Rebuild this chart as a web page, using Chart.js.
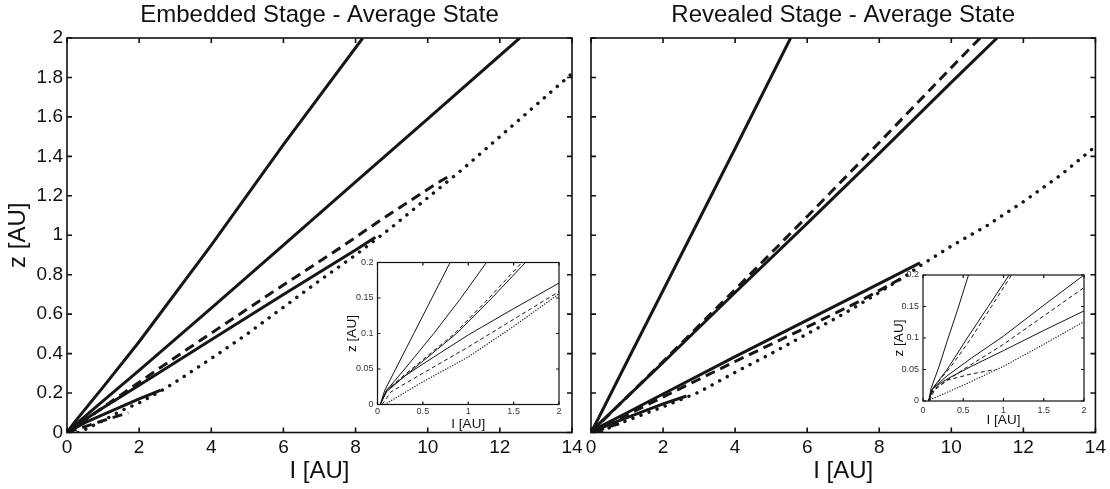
<!DOCTYPE html>
<html>
<head>
<meta charset="utf-8">
<script src="https://cdn.jsdelivr.net/npm/chart.js@4.4.1/dist/chart.umd.min.js"></script>
<style>
  html, body { margin: 0; padding: 0; background: #fff; }
  #wrap { position: relative; width: 1110px; height: 489px; overflow: hidden; }
  canvas { position: absolute; }
</style>
</head>
<body>
<div id="wrap">
  <canvas id="embMain" width="600" height="489" style="left:0;top:0"></canvas>
  <canvas id="revMain" width="550" height="489" style="left:560px;top:0"></canvas>
  <canvas id="embInset" width="235" height="190" style="left:340px;top:250px"></canvas>
  <canvas id="revInset" width="220" height="180" style="left:880px;top:260px"></canvas>
</div>
<script>
// tick values
const mainLTicks = [0, 2, 4, 6, 8, 10, 12, 14];
const mainZTicks = [0, 0.2, 0.4, 0.6, 0.8, 1, 1.2, 1.4, 1.6, 1.8, 2];
const insetLTicks = [0, 0.5, 1, 1.5, 2];
const insetZTicks = [0, 0.05, 0.1, 0.15, 0.2];

// Embedded stage, big panel ([l, z] in AU)
const embSolidA = [[0,0],[0.2,0.05],[1,0.23],[2,0.46],[4,0.95],[6,1.46],[8.2,2]];
const embSolidB = [[0,0],[0.2,0.035],[1,0.16],[2,0.315],[4,0.63],[6,0.95],[8,1.27],[10,1.59],[12.55,2]];
const embSolidC = [[0,0],[0.2,0.03],[1,0.125],[2,0.24],[4,0.47],[6,0.7],[8,0.925],[8.55,0.99]];
const embSolidD = [[0,0],[0.5,0.05],[1,0.09],[2,0.17],[2.6,0.215]];
const embDashA = [[0,0],[1,0.128],[2,0.255],[3.3,0.418],[5.66,0.707],[7.57,0.936],[8.77,1.086],[10.25,1.263],[10.6,1.3]];
const embDashB = [[0,0],[0.5,0.03],[1,0.06],[1.7,0.1]];
const embDot = [[0.3,0],[0.5,0.015],[1,0.06],[1.5,0.11],[2,0.15],[2.6,0.21],[3,0.255],[4,0.375],[5,0.5],[6,0.635],[7,0.77],[8,0.9],[9,1.04],[10,1.19],[11,1.34],[12,1.5],[13,1.66],[14,1.82]];

// Revealed stage, big panel
const revSolidA = [[0,0],[0.2,0.07],[1,0.36],[2,0.72],[3,1.08],[4,1.44],[5.54,2]];
const revSolidB = [[0,0],[0.2,0.04],[1,0.18],[2,0.355],[4,0.71],[6,1.06],[8,1.415],[10,1.775],[11.27,2]];
const revSolidC = [[0,0],[0.2,0.025],[1,0.1],[2,0.195],[4,0.385],[6,0.57],[8,0.755],[9.13,0.86]];
const revSolidD = [[0,0],[0.5,0.04],[1,0.075],[2,0.145],[2.65,0.185]];
const revDashA = [[0,0],[1,0.18],[2,0.36],[4,0.725],[6,1.095],[8,1.47],[10,1.85],[10.8,2]];
const revDashB = [[0,0],[1,0.09],[2.5,0.225],[4,0.36],[6,0.535],[7.45,0.665],[8.8,0.8]];
const revDashC = [[0.1,0],[0.5,0.03],[0.9,0.05]];
const revDot = [[0.3,0],[0.6,0.035],[1,0.06],[2,0.13],[3,0.205],[4,0.305],[5,0.4],[6,0.5],[7,0.6],[8,0.71],[8.7,0.79],[9.13,0.845],[10,0.945],[11,1.05],[12,1.17],[13,1.3],[14,1.45]];

// Embedded stage, inset (zoom near the star)
const embInSolidA = [[0.03,0],[0.08,0.02],[0.2,0.05],[0.4,0.1],[0.6,0.15],[0.8,0.2]];
const embInSolidB = [[0.03,0],[0.1,0.02],[0.3,0.05],[0.62,0.1],[0.92,0.15],[1.2,0.2]];
const embInSolidC = [[0.03,0],[0.1,0.018],[0.3,0.04],[0.87,0.1],[1.26,0.15],[1.63,0.2]];
const embInSolidD = [[0.03,0],[0.1,0.02],[0.3,0.04],[0.5,0.057],[1,0.098],[1.5,0.135],[2,0.171]];
const embInDashA = [[0.03,0],[0.1,0.02],[0.3,0.042],[0.85,0.1],[1.23,0.15],[1.59,0.2]];
const embInDashB = [[0.05,0],[0.15,0.018],[0.5,0.044],[1,0.081],[1.5,0.12],[2,0.159]];
const embInDot = [[0.08,0],[0.5,0.032],[1,0.067],[1.5,0.11],[2,0.156]];

// Revealed stage, inset
const revInSolidA = [[0.07,0],[0.1,0.02],[0.2,0.055],[0.3,0.095],[0.43,0.145],[0.565,0.2]];
const revInSolidB = [[0.07,0],[0.12,0.02],[0.3,0.05],[0.55,0.1],[0.81,0.15],[1.07,0.2]];
const revInSolidC = [[0.07,0],[0.12,0.02],[0.3,0.04],[0.6,0.068],[1,0.103],[1.5,0.152],[2,0.2]];
const revInSolidD = [[0.07,0],[0.12,0.02],[0.3,0.035],[0.6,0.055],[1,0.08],[1.5,0.112],[2,0.143]];
const revInDashA = [[0.07,0],[0.15,0.025],[0.35,0.055],[0.6,0.1],[0.85,0.15],[1.1,0.2]];
const revInDashB = [[0.08,0],[0.15,0.02],[0.5,0.05],[1,0.09],[1.5,0.135],[2,0.18]];
const revInDashC = [[0.09,0.012],[0.3,0.033],[0.6,0.043],[0.9,0.05]];
const revInDot = [[0.09,0.002],[0.5,0.025],[1,0.055],[1.5,0.09],[2,0.126]];

Chart.defaults.font.family = "'Liberation Sans', Arial, sans-serif";
Chart.defaults.color = '#111';

const INK = '#161616';
const bigStyles = {
    solid: { borderWidth: 3 },
    dash: { borderWidth: 3, borderDash: [10, 6] },
    dot: { borderWidth: 3.4, borderDash: [0.1, 8.5], borderCapStyle: 'round' }
};
const smallStyles = {
    solid: { borderWidth: 1 },
    dash: { borderWidth: 1, borderDash: [4, 3] },
    dot: { borderWidth: 1.3, borderDash: [0.1, 2.6], borderCapStyle: 'round' }
};

function line(points, style) {
    return Object.assign({
        data: points.map(p => ({ x: p[0], y: p[1] })),
        showLine: true,
        pointRadius: 0,
        borderColor: INK,
        fill: false,
        tension: 0
    }, style);
}

// MATLAB-like box: frame plus inward ticks on all four sides
const matlabBox = {
    id: 'matlabBox',
    beforeDatasetsDraw(chart, args, opts) {
        if (!opts.fill) return;
        const a = chart.chartArea, c = chart.ctx;
        c.save();
        c.fillStyle = '#fff';
        c.fillRect(a.left, a.top, a.right - a.left, a.bottom - a.top);
        c.restore();
    },
    afterDatasetsDraw(chart, args, opts) {
        const a = chart.chartArea, c = chart.ctx, t = opts.tick;
        c.save();
        c.strokeStyle = '#111';
        c.lineWidth = opts.width;
        c.strokeRect(a.left, a.top, a.right - a.left, a.bottom - a.top);
        c.beginPath();
        chart.scales.x.ticks.forEach(k => {
            const px = chart.scales.x.getPixelForValue(k.value);
            c.moveTo(px, a.bottom); c.lineTo(px, a.bottom - t);
            c.moveTo(px, a.top); c.lineTo(px, a.top + t);
        });
        chart.scales.y.ticks.forEach(k => {
            const py = chart.scales.y.getPixelForValue(k.value);
            c.moveTo(a.left, py); c.lineTo(a.left + t, py);
            c.moveTo(a.right, py); c.lineTo(a.right - t, py);
        });
        c.stroke();
        c.restore();
    }
};

function axis(o) {
    return {
        type: 'linear',
        min: o.min,
        max: o.max,
        grid: { display: false, drawTicks: false },
        border: { display: false },
        afterBuildTicks: s => { s.ticks = o.ticks.map(v => ({ value: v })); },
        afterFit: s => {
            if (s.isHorizontal()) s.height = o.size; else s.width = o.size;
        },
        ticks: {
            display: o.labels !== false,
            padding: o.pad,
            font: { size: o.fs },
            color: o.color || '#111',
            autoSkip: false,
            maxRotation: 0,
            callback: v => String(v)
        },
        title: o.title
            ? { display: true, text: o.title, font: { size: o.tfs }, padding: o.tpad, color: '#111' }
            : { display: false }
    };
}

function makeChart(id, cfg) {
    return new Chart(document.getElementById(id), {
        type: 'scatter',
        data: { datasets: cfg.datasets },
        options: {
            responsive: false,
            animation: false,
            events: [],
            layout: { padding: cfg.padding },
            plugins: {
                legend: { display: false },
                tooltip: { enabled: false },
                title: cfg.title
                    ? { display: true, text: cfg.title, fullSize: false, color: '#111',
                        font: { size: 24, weight: 'normal' }, padding: { top: 1.4, bottom: 7.8 } }
                    : { display: false },
                matlabBox: cfg.box
            },
            scales: { x: cfg.x, y: cfg.y }
        },
        plugins: [matlabBox]
    });
}

const B = bigStyles, S = smallStyles;

makeChart('embMain', {
    title: 'Embedded Stage - Average State',
    padding: { left: 0, right: 28, top: 0, bottom: 0 },
    box: { tick: 5, width: 1.6 },
    datasets: [
        line(embDot, B.dot), line(embDashB, B.dash), line(embDashA, B.dash),
        line(embSolidA, B.solid), line(embSolidB, B.solid), line(embSolidC, B.solid), line(embSolidD, B.solid)
    ],
    x: axis({ min: 0, max: 14, ticks: mainLTicks, size: 56.5, pad: 4, fs: 19,
              title: 'I [AU]', tfs: 24, tpad: { top: 0, bottom: 2.9 } }),
    y: axis({ min: 0, max: 2, ticks: mainZTicks, size: 67, pad: 4, fs: 19,
              title: 'z [AU]', tfs: 24, tpad: { top: 4.4, bottom: 0 } })
});

makeChart('revMain', {
    title: 'Revealed Stage - Average State',
    padding: { left: 0, right: 14, top: 0, bottom: 0 },
    box: { tick: 5, width: 1.6 },
    datasets: [
        line(revDot, B.dot), line(revDashC, B.dash), line(revDashB, B.dash), line(revDashA, B.dash),
        line(revSolidA, B.solid), line(revSolidB, B.solid), line(revSolidC, B.solid), line(revSolidD, B.solid)
    ],
    x: axis({ min: 0, max: 14, ticks: mainLTicks, size: 56.5, pad: 4, fs: 19,
              title: 'I [AU]', tfs: 24, tpad: { top: 0, bottom: 2.9 } }),
    y: axis({ min: 0, max: 2, ticks: mainZTicks, size: 31, labels: false, pad: 4, fs: 19 })
});

makeChart('embInset', {
    padding: { left: 0, right: 16, top: 12.5, bottom: 0 },
    box: { tick: 3, width: 1.2, fill: true },
    datasets: [
        line(embInDot, S.dot), line(embInDashB, S.dash), line(embInDashA, S.dash),
        line(embInSolidA, S.solid), line(embInSolidB, S.solid), line(embInSolidC, S.solid), line(embInSolidD, S.solid)
    ],
    x: axis({ min: 0, max: 2, ticks: insetLTicks, size: 35.5, pad: 2, fs: 9, color: '#333',
              title: 'I [AU]', tfs: 13.5, tpad: { top: 0, bottom: 8 } }),
    y: axis({ min: 0, max: 0.2, ticks: insetZTicks, size: 37.5, pad: 4, fs: 9, color: '#333',
              title: 'z [AU]', tfs: 13.5, tpad: { top: 4.5, bottom: 0 } })
});

makeChart('revInset', {
    padding: { left: 0, right: 16, top: 15, bottom: 0 },
    box: { tick: 3, width: 1.2, fill: true },
    datasets: [
        line(revInDot, S.dot), line(revInDashC, S.dash), line(revInDashB, S.dash), line(revInDashA, S.dash),
        line(revInSolidA, S.solid), line(revInSolidB, S.solid), line(revInSolidC, S.solid), line(revInSolidD, S.solid)
    ],
    x: axis({ min: 0, max: 2, ticks: insetLTicks, size: 39, pad: 4, fs: 9, color: '#333',
              title: 'I [AU]', tfs: 13.5, tpad: { top: 0, bottom: 12 } }),
    y: axis({ min: 0, max: 0.2, ticks: insetZTicks, size: 43, pad: 4, fs: 9, color: '#333',
              title: 'z [AU]', tfs: 13.5, tpad: { top: 11.5, bottom: 0 } })
});
</script>
</body>
</html>
